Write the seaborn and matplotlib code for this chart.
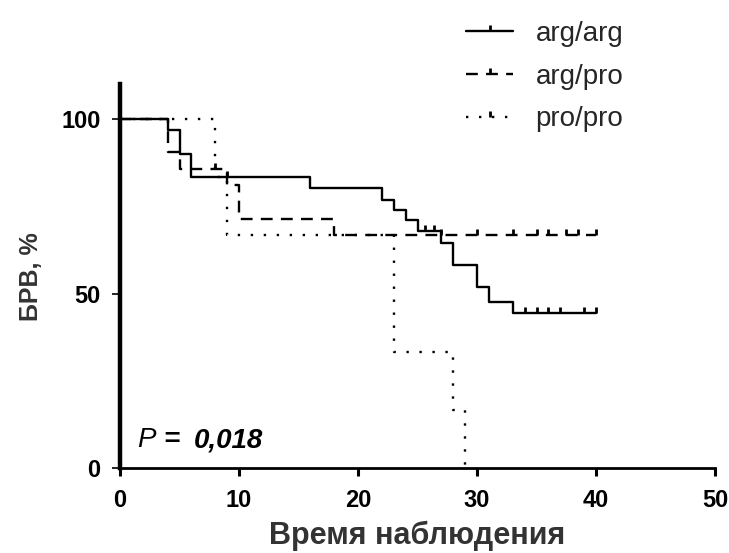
import numpy as np
import pandas as pd
import matplotlib
matplotlib.use('Agg')
import matplotlib.pyplot as plt
from matplotlib.lines import Line2D
import seaborn as sns

# Kaplan-Meier steps (time, % survival)
argarg_t = [0, 4, 5, 6, 16, 22, 23, 24, 25, 27, 28, 30, 31, 33, 40]
argarg_s = [100, 96.7, 90.0, 83.3, 80.2, 76.9, 74.0, 71.1, 67.8, 64.5, 58.3, 52.0, 47.7, 44.4, 44.4]
argarg_cens = [9, 25.6, 26.4, 34, 35, 36, 37, 39, 40]

argpro_t = [0, 4, 5, 9, 10, 18, 40]
argpro_s = [100, 90.5, 85.7, 81.0, 71.4, 66.7, 66.7]
argpro_cens = [8, 27, 30, 33, 35, 36, 37.5, 38.5, 40]

propro_t = [0, 8, 9, 23, 28, 29]
propro_s = [100, 83.3, 66.7, 33.3, 16.7, 0]
propro_cens = []

labels = ['arg/arg', 'arg/pro', 'pro/pro']
x_ticks = [0, 10, 20, 30, 40, 50]
y_ticks = [0, 50, 100]

sns.set_style('ticks')
plt.rcParams['font.family'] = ['Liberation Sans', 'DejaVu Sans']

fig = plt.figure(figsize=(7.29, 5.53), dpi=100)
ax = fig.add_axes([120/729, 84.7/553, 595/729, 384.3/553])

styles = ['-', (0, (5, 3.5)), (0, (1, 4.5))]
groups = [(argarg_t, argarg_s, argarg_cens),
          (argpro_t, argpro_s, argpro_cens),
          (propro_t, propro_s, propro_cens)]

handles = []
for (t, s, c), ls, lab in zip(groups, styles, labels):
    df = pd.DataFrame({'t': t, 's': s})
    sns.lineplot(data=df, x='t', y='s', drawstyle='steps-post', estimator=None,
                 sort=False, color='black', lw=1.7, linestyle=ls, ax=ax)
    if c:
        idx = np.searchsorted(t, c, side='right') - 1
        cy = np.array(s)[idx]
        ax.plot(c, cy, linestyle='none', marker=2, ms=4, mew=2, color='black')
    handles.append(Line2D([], [], color='black', lw=1.7, linestyle=ls,
                          marker=2, ms=4, mew=2))

ax.set_xlim(0, 50)
ax.set_ylim(0, 110)
ax.set_xticks(x_ticks)
ax.set_yticks(y_ticks)
sns.despine(ax=ax)
ax.spines['left'].set_linewidth(3.2)
ax.spines['bottom'].set_linewidth(2.0)
ax.spines['left'].set_color('black')
ax.spines['bottom'].set_color('black')
ax.tick_params(axis='x', length=6, width=2.2, pad=9, labelsize=17, colors='black')
ax.tick_params(axis='y', length=6, width=1.2, pad=8, labelsize=17, colors='black')
for lbl in ax.get_xticklabels() + ax.get_yticklabels():
    lbl.set_fontweight('bold')

ax.set_xlabel('Время наблюдения', fontsize=22, fontweight='bold', color='#333333', labelpad=6)
ax.set_ylabel('БРВ, %', fontsize=18, fontweight='bold', color='#333333', labelpad=13)

ax.text(1.4, 6, 'P', fontsize=20, style='italic', color='black')
ax.text(3.6, 6, '=', fontsize=20, style='italic', fontweight='bold', color='black')
ax.text(6.2, 6, '0,018', fontsize=20, style='italic', fontweight='bold', color='black')

fig.legend(handles, labels, loc='upper left', bbox_to_anchor=(466/729, 1 - 21/553),
           frameon=False, fontsize=20, handlelength=1.7, handletextpad=0.8,
           labelspacing=0.6, borderpad=0, borderaxespad=0, numpoints=1)

fig.savefig('out.png', dpi=100)
